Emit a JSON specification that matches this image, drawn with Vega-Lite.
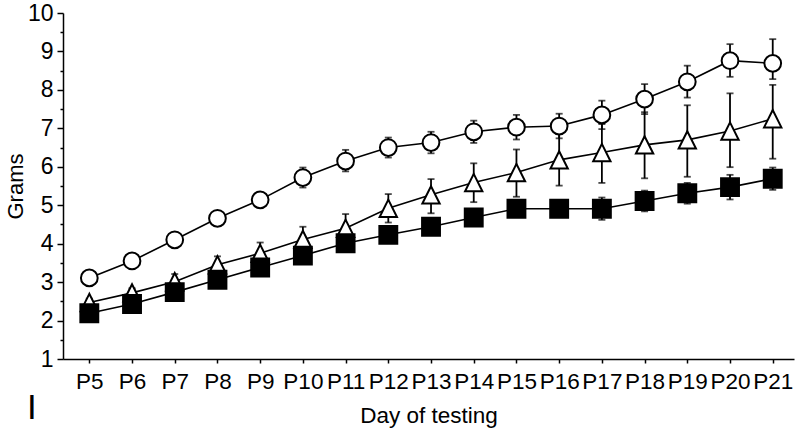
{
  "$schema": "https://vega.github.io/schema/vega-lite/v6.json",
  "autosize": "none",
  "padding": {"left": 63, "top": 13, "right": 6, "bottom": 75},
  "width": 731,
  "height": 346,
  "background": "white",
  "config": {
    "view": {"stroke": null},
    "axisY": {
      "grid": false, "labelOverlap": false,
      "domainColor": "black", "domainWidth": 1.5,
      "tickColor": "black", "tickWidth": 1.5,
      "labelFont": "Liberation Sans", "labelFontSize": 23, "labelColor": "black", "labelPadding": 4,
      "titleFont": "Liberation Sans", "titleFontSize": 22, "titleFontWeight": "normal", "titleColor": "black", "titlePadding": 0
    }
  },
  "title": {"text": "I", "orient": "bottom", "anchor": "start", "frame": "group", "font": "Liberation Sans", "fontSize": 35, "fontWeight": "normal", "color": "black", "dx": -36, "dy": -40},
  "data": {"values": [
    {"day":"P5","grp":"c","mean":3.11,"lo":3.00,"hi":3.22},
    {"day":"P6","grp":"c","mean":3.55,"lo":3.45,"hi":3.65},
    {"day":"P7","grp":"c","mean":4.10,"lo":3.98,"hi":4.22},
    {"day":"P8","grp":"c","mean":4.66,"lo":4.52,"hi":4.80},
    {"day":"P9","grp":"c","mean":5.14,"lo":5.00,"hi":5.28},
    {"day":"P10","grp":"c","mean":5.72,"lo":5.46,"hi":5.98},
    {"day":"P11","grp":"c","mean":6.15,"lo":5.88,"hi":6.44},
    {"day":"P12","grp":"c","mean":6.50,"lo":6.24,"hi":6.76},
    {"day":"P13","grp":"c","mean":6.63,"lo":6.35,"hi":6.91},
    {"day":"P14","grp":"c","mean":6.91,"lo":6.62,"hi":7.20},
    {"day":"P15","grp":"c","mean":7.03,"lo":6.71,"hi":7.35},
    {"day":"P16","grp":"c","mean":7.06,"lo":6.74,"hi":7.38},
    {"day":"P17","grp":"c","mean":7.35,"lo":6.98,"hi":7.72},
    {"day":"P18","grp":"c","mean":7.76,"lo":7.37,"hi":8.15},
    {"day":"P19","grp":"c","mean":8.21,"lo":7.80,"hi":8.63},
    {"day":"P20","grp":"c","mean":8.76,"lo":8.34,"hi":9.19},
    {"day":"P21","grp":"c","mean":8.69,"lo":8.28,"hi":9.32},
    {"day":"P5","grp":"t","mean":2.47,"lo":2.37,"hi":2.57},
    {"day":"P6","grp":"t","mean":2.72,"lo":2.60,"hi":2.84},
    {"day":"P7","grp":"t","mean":3.01,"lo":2.81,"hi":3.21},
    {"day":"P8","grp":"t","mean":3.45,"lo":3.23,"hi":3.67},
    {"day":"P9","grp":"t","mean":3.75,"lo":3.47,"hi":4.03},
    {"day":"P10","grp":"t","mean":4.11,"lo":3.78,"hi":4.44},
    {"day":"P11","grp":"t","mean":4.40,"lo":4.03,"hi":4.77},
    {"day":"P12","grp":"t","mean":4.92,"lo":4.55,"hi":5.29},
    {"day":"P13","grp":"t","mean":5.27,"lo":4.79,"hi":5.68},
    {"day":"P14","grp":"t","mean":5.59,"lo":5.08,"hi":6.09},
    {"day":"P15","grp":"t","mean":5.85,"lo":5.22,"hi":6.45},
    {"day":"P16","grp":"t","mean":6.18,"lo":5.51,"hi":6.85},
    {"day":"P17","grp":"t","mean":6.37,"lo":5.58,"hi":7.11},
    {"day":"P18","grp":"t","mean":6.57,"lo":5.70,"hi":7.42},
    {"day":"P19","grp":"t","mean":6.70,"lo":5.74,"hi":7.60},
    {"day":"P20","grp":"t","mean":6.93,"lo":5.99,"hi":7.91},
    {"day":"P21","grp":"t","mean":7.25,"lo":6.21,"hi":8.13},
    {"day":"P5","grp":"s","mean":2.19,"lo":2.07,"hi":2.31},
    {"day":"P6","grp":"s","mean":2.43,"lo":2.31,"hi":2.55},
    {"day":"P7","grp":"s","mean":2.74,"lo":2.62,"hi":2.86},
    {"day":"P8","grp":"s","mean":3.06,"lo":2.94,"hi":3.18},
    {"day":"P9","grp":"s","mean":3.38,"lo":3.26,"hi":3.50},
    {"day":"P10","grp":"s","mean":3.69,"lo":3.57,"hi":3.81},
    {"day":"P11","grp":"s","mean":4.01,"lo":3.89,"hi":4.13},
    {"day":"P12","grp":"s","mean":4.23,"lo":4.11,"hi":4.35},
    {"day":"P13","grp":"s","mean":4.44,"lo":4.26,"hi":4.62},
    {"day":"P14","grp":"s","mean":4.68,"lo":4.50,"hi":4.86},
    {"day":"P15","grp":"s","mean":4.91,"lo":4.72,"hi":5.10},
    {"day":"P16","grp":"s","mean":4.91,"lo":4.72,"hi":5.10},
    {"day":"P17","grp":"s","mean":4.91,"lo":4.62,"hi":5.20},
    {"day":"P18","grp":"s","mean":5.11,"lo":4.84,"hi":5.38},
    {"day":"P19","grp":"s","mean":5.31,"lo":5.04,"hi":5.58},
    {"day":"P20","grp":"s","mean":5.47,"lo":5.15,"hi":5.79},
    {"day":"P21","grp":"s","mean":5.69,"lo":5.40,"hi":5.98}
  ]},
  "encoding": {
    "x": {
      "field": "day", "type": "ordinal",
      "scale": {"type": "point", "domain": ["P5","P6","P7","P8","P9","P10","P11","P12","P13","P14","P15","P16","P17","P18","P19","P20","P21"], "padding": 0.557, "align": 0.553},
      "axis": {
        "title": "Day of testing", "labelAngle": 0, "grid": false, "labelOverlap": false,
        "domainColor": "black", "domainWidth": 1.5,
        "tickColor": "black", "tickWidth": 1.5, "tickSize": 4,
        "labelFont": "Liberation Sans", "labelFontSize": 22.5, "labelColor": "black", "labelPadding": 7,
        "titleFont": "Liberation Sans", "titleFontSize": 22.5, "titleFontWeight": "normal", "titleColor": "black", "titlePadding": 12
      }
    }
  },
  "layer": [
    {
      "mark": {"type": "rule", "color": "black", "strokeWidth": 1.8},
      "encoding": {
        "y": {"field": "lo", "type": "quantitative", "scale": {"domain": [1, 10], "nice": false, "zero": false},
          "axis": {"title": "Grams", "titleColor": "black", "titlePadding": 0, "values": [1,1.5,2,2.5,3,3.5,4,4.5,5,5.5,6,6.5,7,7.5,8,8.5,9,9.5,10], "labelExpr": "datum.value % 1 === 0 ? '' + datum.value : ''", "labelOverlap": false, "tickSize": {"condition": {"test": "datum.value % 1 === 0", "value": 6}, "value": 3}}},
        "y2": {"field": "hi"},
        "detail": {"field": "grp"}
      }
    },
    {
      "mark": {"type": "tick", "orient": "horizontal", "color": "black", "size": 7, "thickness": 1.8},
      "encoding": {"y": {"field": "hi", "type": "quantitative", "scale": {"domain": [1, 10], "nice": false, "zero": false},
          "axis": {"title": "Grams", "titleColor": "black", "titlePadding": 0, "values": [1,1.5,2,2.5,3,3.5,4,4.5,5,5.5,6,6.5,7,7.5,8,8.5,9,9.5,10], "labelExpr": "datum.value % 1 === 0 ? '' + datum.value : ''", "labelOverlap": false, "tickSize": {"condition": {"test": "datum.value % 1 === 0", "value": 6}, "value": 3}}},
        "detail": {"field": "grp"}}
    },
    {
      "mark": {"type": "tick", "orient": "horizontal", "color": "black", "size": 7, "thickness": 1.8},
      "encoding": {"y": {"field": "lo", "type": "quantitative", "scale": {"domain": [1, 10], "nice": false, "zero": false},
          "axis": {"title": "Grams", "titleColor": "black", "titlePadding": 0, "values": [1,1.5,2,2.5,3,3.5,4,4.5,5,5.5,6,6.5,7,7.5,8,8.5,9,9.5,10], "labelExpr": "datum.value % 1 === 0 ? '' + datum.value : ''", "labelOverlap": false, "tickSize": {"condition": {"test": "datum.value % 1 === 0", "value": 6}, "value": 3}}},
        "detail": {"field": "grp"}}
    },
    {
      "mark": {"type": "line", "color": "black", "strokeWidth": 1.6},
      "encoding": {"y": {"field": "mean", "type": "quantitative", "scale": {"domain": [1, 10], "nice": false, "zero": false},
          "axis": {"title": "Grams", "titleColor": "black", "titlePadding": 0, "values": [1,1.5,2,2.5,3,3.5,4,4.5,5,5.5,6,6.5,7,7.5,8,8.5,9,9.5,10], "labelExpr": "datum.value % 1 === 0 ? '' + datum.value : ''", "labelOverlap": false, "tickSize": {"condition": {"test": "datum.value % 1 === 0", "value": 6}, "value": 3}}},
        "detail": {"field": "grp"}}
    },
    {
      "mark": {"type": "point", "filled": true, "opacity": 1, "stroke": "black", "strokeWidth": 2},
      "encoding": {
        "y": {"field": "mean", "type": "quantitative", "scale": {"domain": [1, 10], "nice": false, "zero": false},
          "axis": {"title": "Grams", "titleColor": "black", "titlePadding": 0, "values": [1,1.5,2,2.5,3,3.5,4,4.5,5,5.5,6,6.5,7,7.5,8,8.5,9,9.5,10], "labelExpr": "datum.value % 1 === 0 ? '' + datum.value : ''", "labelOverlap": false, "tickSize": {"condition": {"test": "datum.value % 1 === 0", "value": 6}, "value": 3}}},
        "shape": {"field": "grp", "type": "nominal", "scale": {"domain": ["c","t","s"], "range": ["circle","M0,-1L-1,1L1,1Z","square"]}, "legend": null},
        "fill": {"field": "grp", "type": "nominal", "scale": {"domain": ["c","t","s"], "range": ["white","white","black"]}, "legend": null},
        "size": {"field": "grp", "type": "nominal", "scale": {"domain": ["c","t","s"], "range": [280, 320, 400]}, "legend": null}
      }
    }
  ]
}
